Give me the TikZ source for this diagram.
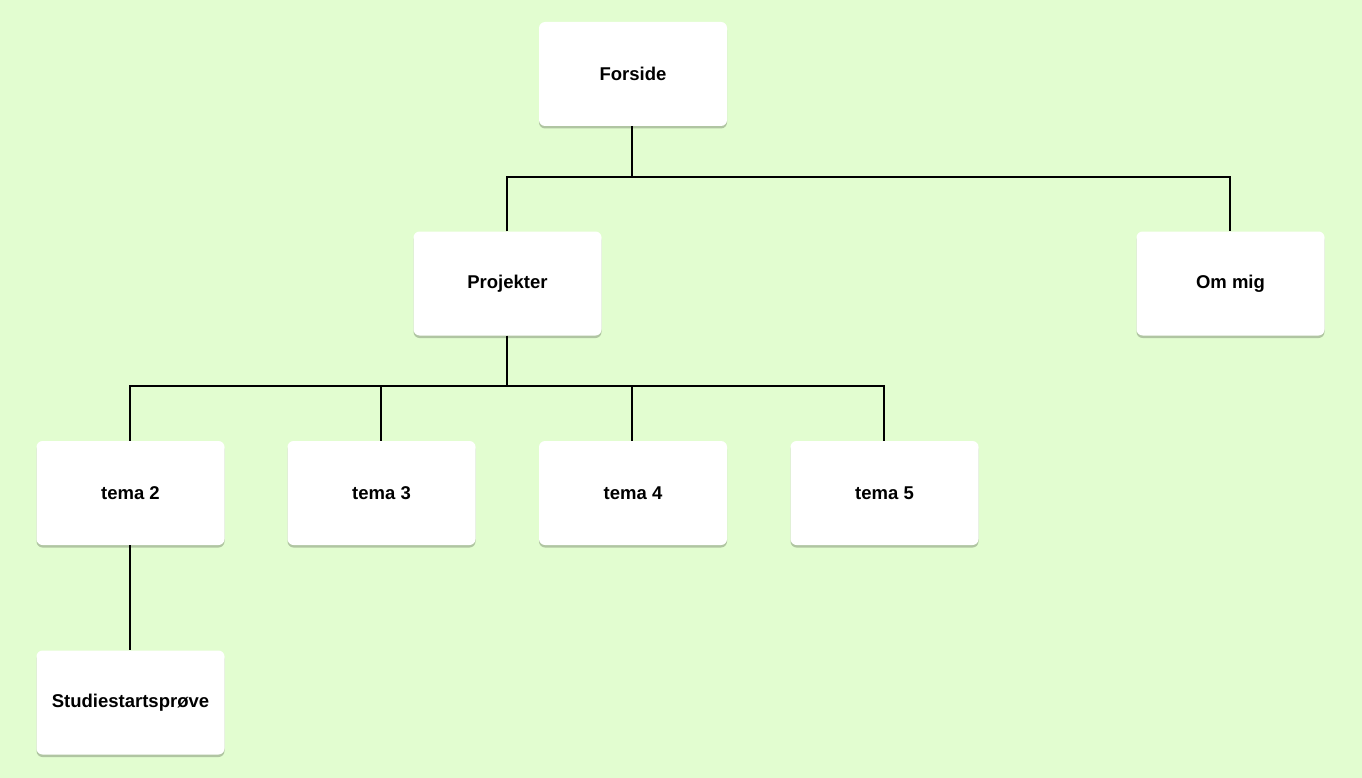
\documentclass[tikz,border=0pt]{standalone}
\usepackage{fontspec}
\setmainfont{Liberation Sans}
\usetikzlibrary{shadows}
\definecolor{bg}{HTML}{E2FDD0}
\tikzset{
  page/.style={draw=none, fill=white, rounded corners=6pt, minimum width=188pt, minimum height=104pt,
    inner sep=0pt, font=\fontsize{18.5}{22}\selectfont\bfseries,
    drop shadow={shadow xshift=0pt, shadow yshift=-2.5pt, opacity=0.22, fill=black}},
  link/.style={line width=2pt, black}
}
\begin{document}
\begin{tikzpicture}[x=1pt,y=-1pt]
\fill[bg] (0,0) rectangle (1362,778);
\useasboundingbox (0,0) rectangle (1362,778);
\node[page] (forside) at (633,74) {Forside};
\node[page] (projekter) at (507.5,283.5) {Projekter};
\node[page] (om) at (1230.5,283.5) {Om mig};
\node[page] (t2) at (130.5,493) {tema 2};
\node[page] (t3) at (381.5,493) {tema 3};
\node[page] (t4) at (633,493) {tema 4};
\node[page] (t5) at (884.5,493) {tema 5};
\node[page] (sp) at (130.5,702.5) {Studiestartsprøve};
\coordinate (j1) at (632,177);
\coordinate (j2) at (507,386);
\draw[link] (forside.south -| j1) -- (j1);
\draw[link] (projekter.north -| 507,0) |- (j1) -| (om.north -| 1230,0);
\draw[link] (projekter.south -| j2) -- (j2);
\draw[link] (t2.north -| 130,0) |- (j2) -| (t5.north -| 884,0);
\draw[link] (t3.north -| 381,0) -- (381,386);
\draw[link] (t4.north -| 632,0) -- (632,386);
\draw[link] (t2.south -| 130,0) -- (sp.north -| 130,0);
\end{tikzpicture}
\end{document}
